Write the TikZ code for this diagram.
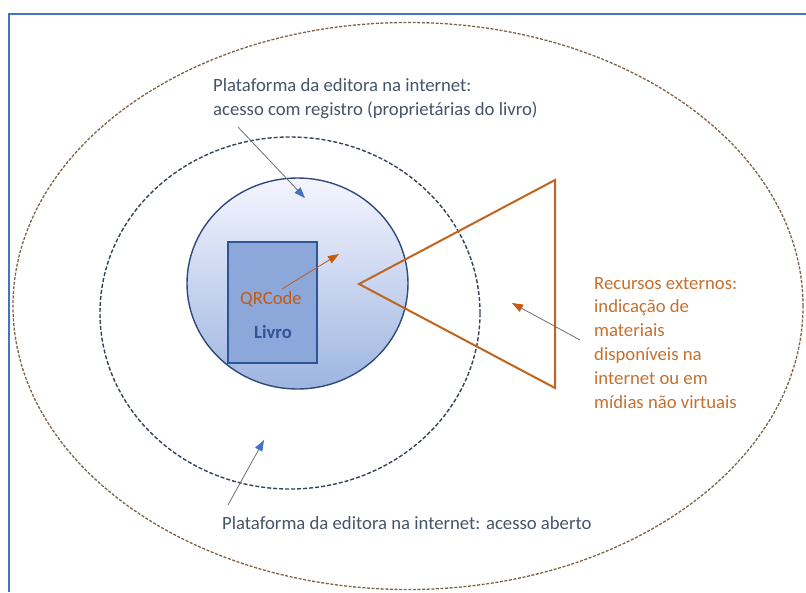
\documentclass[tikz,border=0pt]{standalone}
\usepackage{fontspec}
\setmainfont{Carlito}
\usetikzlibrary{shapes.geometric, arrows.meta}

\definecolor{framecol}{HTML}{4472C4}
\definecolor{webcol}{HTML}{7E6248}
\definecolor{sitecol}{HTML}{344357}
\definecolor{rimcol}{HTML}{2F4B7C}
\definecolor{bookcol}{HTML}{8CA8DA}
\definecolor{bookrim}{HTML}{2F5597}
\definecolor{qrcol}{HTML}{C55A11}
\definecolor{slate}{HTML}{44546A}
\definecolor{extcol}{HTML}{C4702F}
\definecolor{tricol}{HTML}{C0651F}
\definecolor{pointer}{HTML}{6E6E6E}

\tikzset{
    label text/.style={inner sep=0pt, anchor=base west, align=left},
    blue pointer/.style={pointer, line width=0.8pt, -{Triangle[length=11pt, width=8pt, color=framecol]}},
    orange pointer/.style={pointer, line width=0.8pt, -{Triangle[length=11pt, width=8pt, color=qrcol]}}
}

\begin{document}
\begin{tikzpicture}[x=1pt, y=-1pt, every node/.style={font=\fontsize{18.7pt}{23.8pt}\selectfont}]
    \useasboundingbox (0,0) rectangle (806,592);

    % Frame (top and left edges only)
    \draw[framecol, line width=2pt] (9,592) -- (9,14) -- (806,14);

    % Rings
    \node[ellipse, draw=webcol, dashed, dash pattern=on 3pt off 1.6pt, line width=1.3pt, inner sep=0pt,
          minimum width=790pt, minimum height=567pt] (web) at (408,306) {};
    \node[ellipse, draw=sitecol, dash pattern=on 4pt off 2pt, line width=1.4pt, inner sep=0pt,
          minimum width=380pt, minimum height=352pt] (site) at (290,313) {};
    \node[ellipse, draw=rimcol, line width=1.4pt, inner sep=0pt,
          top color=blue!4, bottom color=bookcol!85,
          minimum width=221pt, minimum height=211pt] (reg) at (297.5,283.5) {};

    % Book
    \node[rectangle, draw=bookrim, fill=bookcol, line width=1.4pt, inner sep=0pt,
          minimum width=89pt, minimum height=121pt] (book) at (272.5,302.5) {};
    \node[inner sep=0pt, anchor=base, text=qrcol] (qr) at (271,304) {QRCode};
    \node[inner sep=0pt, anchor=base, text=bookrim, font=\fontsize{18.7pt}{23.8pt}\selectfont\bfseries] (livro) at (273,338) {Livro};

    % External resources cone
    \coordinate (apex) at (359,284);
    \coordinate (conetop) at (555,180);
    \coordinate (conebot) at (555,388);
    \draw[tricol, line width=2pt, line join=miter] (apex) -- (conetop) -- (conebot) -- cycle;

    % Labels (base of a multi-line label = last line)
    \node[label text, text=slate] (regtext) at (213,115)
        {Plataforma da editora na internet:\\acesso com registro (proprietárias do livro)};
    \node[label text, text=slate] (opentext) at (222,529)
        {Plataforma da editora na internet: acesso aberto};
    \node[label text, text=extcol] (exttext) at (594,408)
        {Recursos externos:\\indicação de\\materiais\\disponíveis na\\internet ou em\\mídias não virtuais};

    % Pointers
    \coordinate (regtail) at (238,127);
    \coordinate (reghead) at (305,198);
    \coordinate (opentail) at (228,505);
    \coordinate (openhead) at (264,440);
    \coordinate (exttail) at (580,340);
    \coordinate (exthead) at (512,303);
    \coordinate (qrtail) at (282,289);
    \coordinate (qrhead) at (339,254);
    \draw[blue pointer] (regtail) -- (reghead);
    \draw[blue pointer] (opentail) -- (openhead);
    \draw[orange pointer] (exttail) -- (exthead);
    \draw[orange pointer, draw=qrcol] (qrtail) -- (qrhead);

\end{tikzpicture}
\end{document}
